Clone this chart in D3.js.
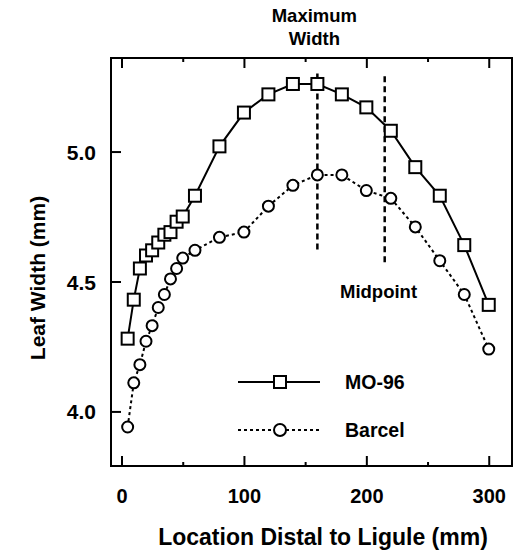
<!DOCTYPE html>
<meta charset="utf-8">
<style>
body { margin: 0; background: #fff; }
svg text { font-family: "Liberation Sans", Arial, sans-serif; font-weight: bold; fill: #000; }
</style>
<svg width="514" height="560"></svg>
<script src="https://d3js.org/d3.v7.min.js"></script>
<script>

// distance from ligule (mm) and leaf width (mm)
let distance = [5, 10, 15, 20, 25, 30, 35, 40, 45, 50, 60, 80, 100, 120, 140, 160, 180, 200, 220, 240, 260, 280, 300];
let mo96 = [4.28, 4.43, 4.55, 4.60, 4.62, 4.65, 4.68, 4.69, 4.73, 4.75, 4.83, 5.02, 5.15, 5.22, 5.26, 5.26, 5.22, 5.17, 5.08, 4.94, 4.83, 4.64, 4.41];
let barcel = [3.94, 4.11, 4.18, 4.27, 4.33, 4.40, 4.45, 4.51, 4.55, 4.59, 4.62, 4.67, 4.69, 4.79, 4.87, 4.91, 4.91, 4.85, 4.82, 4.71, 4.58, 4.45, 4.24];
let xTicks = [0, 100, 200, 300];
let xMinorTicks = [50, 150, 250];
let yTicks = [4.0, 4.5, 5.0];
let seriesNames = ["MO-96", "Barcel"];
// reference lines: [x, yTop, yBottom]
let maxWidthLine = [160, 5.30, 4.62];
let midpointLine = [215, 5.29, 4.565];

let svg = d3.select("svg");
let pLeft = 111, pRight = 512, pTop = 58, pBottom = 466;

let x = d3.scaleLinear().domain([-8.6, 319]).range([pLeft, pRight]);
let y = d3.scaleLinear().domain([3.79, 5.36]).range([pBottom, pTop]);

// frame
svg.append("rect")
	.attr("x", pLeft).attr("y", pTop)
	.attr("width", pRight - pLeft).attr("height", pBottom - pTop)
	.attr("fill", "none").attr("stroke", "#000").attr("stroke-width", 2);

// bottom axis, ticks pointing in
let xAxis = svg.append("g").attr("transform", "translate(0," + pBottom + ")")
	.call(d3.axisBottom(x).tickValues(xTicks).tickSizeInner(-10).tickSizeOuter(0).tickPadding(37).tickFormat(d3.format("d")));
xAxis.select(".domain").remove();
xAxis.selectAll("line").attr("stroke-width", 2);
xAxis.selectAll("text").attr("font-size", 20).attr("dy", 0);

let xMinor = svg.append("g").attr("transform", "translate(0," + pBottom + ")")
	.call(d3.axisBottom(x).tickValues(xMinorTicks).tickSizeInner(-4).tickSizeOuter(0).tickFormat(""));
xMinor.select(".domain").remove();
xMinor.selectAll("line").attr("stroke-width", 2);

// top mirror ticks
let xTop = svg.append("g").attr("transform", "translate(0," + pTop + ")")
	.call(d3.axisTop(x).tickValues(xTicks).tickSizeInner(-10).tickSizeOuter(0).tickFormat(""));
xTop.select(".domain").remove();
xTop.selectAll("line").attr("stroke-width", 2);
let xTopMinor = svg.append("g").attr("transform", "translate(0," + pTop + ")")
	.call(d3.axisTop(x).tickValues(xMinorTicks).tickSizeInner(-4).tickSizeOuter(0).tickFormat(""));
xTopMinor.select(".domain").remove();
xTopMinor.selectAll("line").attr("stroke-width", 2);

// left axis
let yAxis = svg.append("g").attr("transform", "translate(" + pLeft + ",0)")
	.call(d3.axisLeft(y).tickValues(yTicks).tickSizeInner(-10).tickSizeOuter(0).tickPadding(15).tickFormat(d3.format(".1f")));
yAxis.select(".domain").remove();
yAxis.selectAll("line").attr("stroke-width", 2);
yAxis.selectAll("text").attr("font-size", 21).attr("dy", "0.36em");

// axis titles
svg.append("text")
	.attr("x", 323).attr("y", 545)
	.attr("text-anchor", "middle").attr("font-size", 23)
	.text("Location Distal to Ligule (mm)");

svg.append("text")
	.attr("transform", "translate(45,278) rotate(-90)")
	.attr("text-anchor", "middle").attr("font-size", 21)
	.text("Leaf Width (mm)");

// reference lines
[maxWidthLine, midpointLine].forEach(function(l) {
	svg.append("line")
		.attr("x1", x(l[0])).attr("x2", x(l[0]))
		.attr("y1", y(l[1])).attr("y2", y(l[2]))
		.attr("stroke", "#000").attr("stroke-width", 2.5)
		.attr("stroke-dasharray", "6,4");
});

svg.append("text")
	.attr("x", x(maxWidthLine[0]) - 3).attr("y", 22)
	.attr("text-anchor", "middle").attr("font-size", 18.5)
	.text("Maximum");
svg.append("text")
	.attr("x", x(maxWidthLine[0]) - 3).attr("y", 45)
	.attr("text-anchor", "middle").attr("font-size", 18.5)
	.text("Width");

svg.append("text")
	.attr("x", 340).attr("y", 298)
	.attr("font-size", 18.5)
	.text("Midpoint");

// series lines
let line = d3.line()
	.x(function(d) { return x(d[0]); })
	.y(function(d) { return y(d[1]); });

let moData = distance.map(function(d, i) { return [d, mo96[i]]; });
let baData = distance.map(function(d, i) { return [d, barcel[i]]; });

svg.append("path").datum(moData)
	.attr("d", line).attr("fill", "none")
	.attr("stroke", "#000").attr("stroke-width", 2);

svg.append("path").datum(baData)
	.attr("d", line).attr("fill", "none")
	.attr("stroke", "#000").attr("stroke-width", 2)
	.attr("stroke-dasharray", "3,3");

// markers
svg.append("g").selectAll("circle")
	.data(baData).enter().append("circle")
	.attr("cx", function(d) { return x(d[0]); })
	.attr("cy", function(d) { return y(d[1]); })
	.attr("r", 5.5)
	.attr("fill", "#fff").attr("stroke", "#000").attr("stroke-width", 2);

svg.append("g").selectAll("rect")
	.data(moData).enter().append("rect")
	.attr("x", function(d) { return x(d[0]) - 6; })
	.attr("y", function(d) { return y(d[1]) - 6; })
	.attr("width", 12).attr("height", 12)
	.attr("fill", "#fff").attr("stroke", "#000").attr("stroke-width", 2);

// legend
let legend = svg.append("g");
legend.append("line")
	.attr("x1", 238).attr("x2", 320).attr("y1", 382).attr("y2", 382)
	.attr("stroke", "#000").attr("stroke-width", 2);
legend.append("rect")
	.attr("x", 274).attr("y", 376).attr("width", 12).attr("height", 12)
	.attr("fill", "#fff").attr("stroke", "#000").attr("stroke-width", 2);
legend.append("text")
	.attr("x", 345).attr("y", 389).attr("font-size", 19.5)
	.text(seriesNames[0]);

legend.append("line")
	.attr("x1", 238).attr("x2", 320).attr("y1", 430).attr("y2", 430)
	.attr("stroke", "#000").attr("stroke-width", 2)
	.attr("stroke-dasharray", "3,3");
legend.append("circle")
	.attr("cx", 280).attr("cy", 430).attr("r", 6)
	.attr("fill", "#fff").attr("stroke", "#000").attr("stroke-width", 2);
legend.append("text")
	.attr("x", 345).attr("y", 437).attr("font-size", 19.5)
	.text(seriesNames[1]);

</script>
